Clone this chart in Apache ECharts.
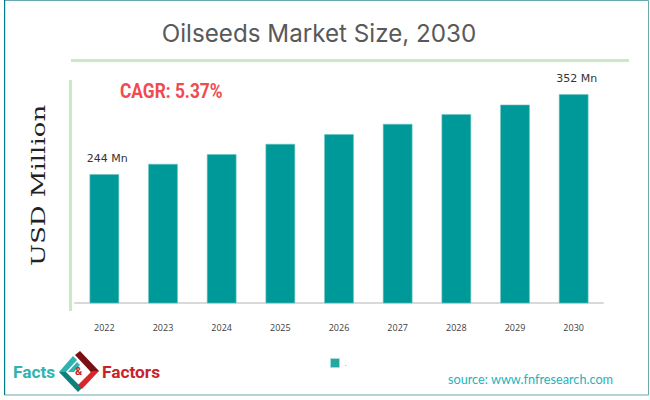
<!DOCTYPE html>
<html>
<head>
<meta charset="utf-8">
<style>
  html, body { margin: 0; padding: 0; background: #fff; }
  #chart { width: 650px; height: 400px; }
</style>
<script src="https://cdn.jsdelivr.net/npm/echarts@6/dist/echarts.min.js"></script>
</head>
<body>
<div id="chart"></div>
<script>
const years = ['2022', '2023', '2024', '2025', '2026', '2027', '2028', '2029', '2030']
const marketSize = [244, 258, 271, 285, 298, 312, 325, 338, 352]
const labelled = ['2022', '2030']

const chart = echarts.init(document.getElementById('chart'), null, { renderer: 'svg' })

const teal = '#009999'
const paleGreen = '#c6ebc5'

// logo pieces, each one a band of the diamond
const logoPiece = (points, fill) => ({ type: 'polygon', shape: { points }, style: { fill } })

chart.setOption({
  animation: false,
  backgroundColor: '#fff',
  title: {
    text: 'Oilseeds Market Size, 2030',
    left: 314, top: 16, textAlign: 'center',
    textStyle: { color: '#595959', fontSize: 24.2, fontWeight: 400, fontFamily: 'Inter' }
  },
  legend: {
    left: 325, top: 353, itemWidth: 9, itemHeight: 9, itemGap: 4, icon: 'rect',
    itemStyle: { color: '#26a8a2', borderColor: '#a5dcd9', borderWidth: 1 },
    textStyle: { fontSize: 8, color: '#888' }
  },
  grid: { left: 75, right: 47, top: 81, bottom: 97 },
  xAxis: {
    type: 'category',
    data: years,
    axisLine: { lineStyle: { color: '#d9d9d9', width: 2 } },
    axisTick: { alignWithLabel: true, length: 4, lineStyle: { color: '#d9d9d9' } },
    axisLabel: { color: '#404040', fontSize: 9, margin: 20, fontFamily: 'Open Sans' }
  },
  yAxis: {
    type: 'value', min: 70, max: 370,
    axisLine: { show: false }, axisTick: { show: false },
    axisLabel: { show: false }, splitLine: { show: false }
  },
  series: [{
    name: '.',
    type: 'bar',
    barWidth: 29.5,
    itemStyle: { color: teal, borderColor: '#66c2bd', borderWidth: 0.6 },
    data: marketSize.map((v, i) => ({
      value: v,
      label: {
        show: labelled.includes(years[i]),
        position: 'top', distance: 10, offset: [3, 0],
        formatter: v + ' Mn',
        color: '#333', fontSize: 11, fontFamily: 'DejaVu Sans'
      }
    }))
  }],
  graphic: [
    { type: 'rect', shape: { x: 4.5, y: 0.5, width: 644, height: 394.5 },
      style: { fill: 'none', stroke: '#6aa9b0', lineWidth: 1 } },
    { type: 'rect', shape: { x: 4, y: 0, width: 1.2, height: 395 }, style: { fill: '#007c85' } },
    { type: 'rect', shape: { x: 71, y: 59, width: 558, height: 3 }, style: { fill: paleGreen } },
    { type: 'rect', shape: { x: 69, y: 80, width: 3, height: 231 }, style: { fill: paleGreen } },
    { type: 'text', x: 120, y: 80, scaleX: 0.825,
      style: { text: 'CAGR: 5.37%', fill: '#ef4b50', fontSize: 21, fontWeight: 'bold', fontFamily: 'Roboto' } },
    { type: 'text', x: 29, y: 266, rotation: Math.PI / 2, scaleX: 1.37,
      style: { text: 'USD Million', fill: '#222', fontSize: 19, fontFamily: 'DejaVu Serif' } },
    { type: 'text', x: 448, y: 372,
      style: { text: 'source: www.fnfresearch.com', fill: '#23b3bd', fontSize: 12.7, fontFamily: 'Lato' } },
    { type: 'text', x: 13, y: 363,
      style: { text: 'Facts', fill: '#2fb3b0', fontSize: 17.3, fontWeight: 'bold', fontFamily: 'Roboto' } },
    { type: 'text', x: 102, y: 363,
      style: { text: 'Factors', fill: '#c8232c', fontSize: 17.3, fontWeight: 'bold', fontFamily: 'Roboto' } },
    logoPiece([[59, 372], [73, 356], [77, 360], [66, 372]], '#2fb3b0'),
    logoPiece([[59, 372], [66, 372], [82, 388], [78, 392]], '#0d7f7c'),
    logoPiece([[68, 372], [77, 362], [80, 365], [74, 372]], '#2fb3b0'),
    logoPiece([[75, 355], [80, 351], [99, 371], [92, 375], [90, 371]], '#7a0f14'),
    logoPiece([[99, 371], [92, 371], [78, 385], [82, 389]], '#d8262c'),
    { type: 'text', x: 75, y: 366, style: { text: '&', fill: '#c8232c', fontSize: 11, fontWeight: 'bold', fontFamily: 'Roboto' } }
  ]
})
</script>
</body>
</html>
